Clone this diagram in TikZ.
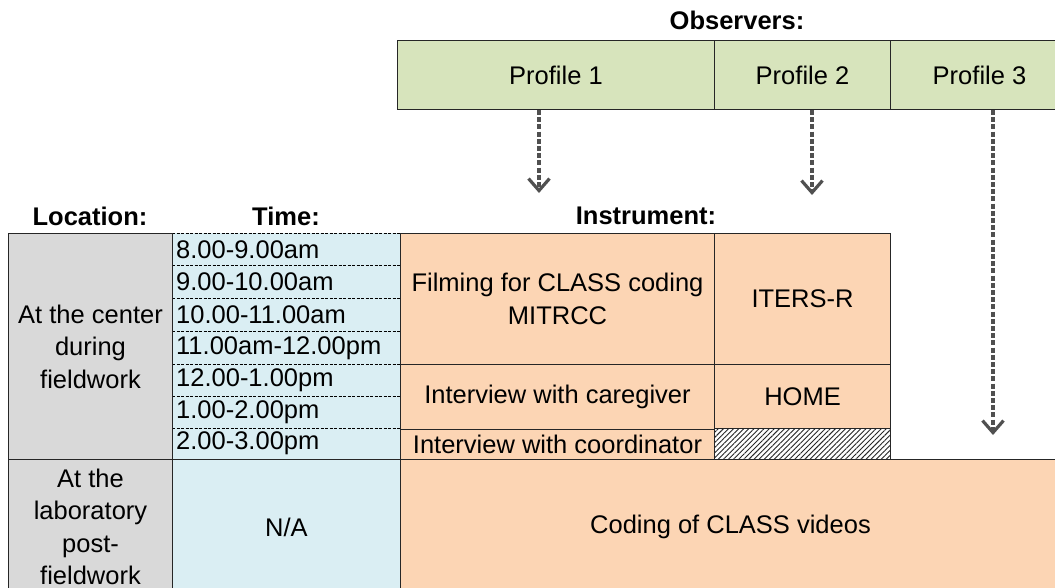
\documentclass[tikz,border=0pt]{standalone}
\usepackage{fontspec}
\setmainfont{Liberation Sans}
\usetikzlibrary{arrows.meta,patterns.meta}
\definecolor{obsgreen}{HTML}{D7E4BC}
\definecolor{timeblue}{HTML}{DAEEF3}
\definecolor{instorange}{HTML}{FCD5B4}
\definecolor{locgray}{HTML}{D9D9D9}
\definecolor{edge}{HTML}{262626}
\definecolor{arrowgray}{HTML}{505050}
\begin{document}
\begin{tikzpicture}[x=1pt,y=-1pt,
  every node/.style={font=\fontsize{25.5}{32.5}\selectfont, text=black},
  cell/.style={draw=edge, line width=1pt, inner sep=0pt, anchor=north west, align=center},
  head/.style={font=\fontsize{25.5}{30}\selectfont\bfseries},
  timetxt/.style={anchor=west, inner sep=0pt},
  sep/.style={draw=black, line width=0.8pt, dash pattern=on 3pt off 1.5pt},
  obsarrow/.style={draw=arrowgray, line width=3.4pt, dash pattern=on 5pt off 2.2pt,
    -{Straight Barb[length=12pt,width=21pt,line width=3.2pt]}}]
\useasboundingbox (0,0) rectangle (1055,587);

% observers header
\node[head] (obs) at (737,20) {Observers:};
\node[cell, fill=obsgreen, minimum width=317pt, minimum height=69pt] (p1) at (397,40) {Profile 1};
\node[cell, fill=obsgreen, minimum width=176pt, minimum height=69pt] (p2) at (714,40) {Profile 2};
\node[cell, fill=obsgreen, minimum width=178pt, minimum height=69pt] (p3) at (890,40) {Profile 3};

% column headings
\node[head] (hloc) at (90,216) {Location:};
\node[head] (htime) at (286,216) {Time:};
\node[head] (hinst) at (646,216) {Instrument:};

% time column
\node[anchor=north west, fill=timeblue, inner sep=0pt, minimum width=228pt, minimum height=226pt] (timecol) at (172,233) {};
\node[timetxt] (t1) at (176,249.5) {8.00-9.00am};
\node[timetxt] (t2) at (176,282) {9.00-10.00am};
\node[timetxt] (t3) at (176,315) {10.00-11.00am};
\node[timetxt] (t4) at (176,348) {11.00am-12.00pm};
\node[timetxt] (t5) at (176,380) {12.00-1.00pm};
\node[timetxt] (t6) at (176,412) {1.00-2.00pm};
\node[timetxt] (t7) at (176,443.5) {2.00-3.00pm};
\foreach \yy in {233,265.5,298,331.5,364,396,428.5}
  \draw[sep] (timecol.west |- 0,\yy) -- (timecol.east |- 0,\yy);

% location, first block
\node[cell, fill=locgray, minimum width=164pt, minimum height=226pt] (loc1) at (8,233)
  {At the center\\during\\fieldwork};

% instruments
\node[cell, fill=instorange, minimum width=314pt, minimum height=131pt] (film) at (400,233)
  {Filming for CLASS coding\\MITRCC};
\node[cell, fill=instorange, minimum width=176pt, minimum height=131pt] (iters) at (714,233) {ITERS-R};
\node[cell, fill=instorange, minimum width=314pt, minimum height=64.5pt] (care) at (400,364)
  {Interview with caregiver};
\node[cell, fill=instorange, minimum width=176pt, minimum height=64.5pt] (home) at (714,364) {HOME};
\node[cell, fill=instorange, minimum width=314pt, minimum height=30.5pt] (coord) at (400,428.5)
  {Interview with coordinator};
\node[cell, preaction={fill=white},
  pattern={Lines[angle=45,distance=3.6pt,line width=0.9pt]}, pattern color=black!85,
  minimum width=176pt, minimum height=30.5pt] (hatch) at (714,428.5) {};

% post-fieldwork row
\node[cell, fill=locgray, minimum width=164pt, minimum height=135pt] (loc2) at (8,459)
  {At the\\laboratory\\post-\\fieldwork};
\node[cell, fill=timeblue, minimum width=228pt, minimum height=135pt] (na) at (172,459) {N/A};
\node[cell, fill=instorange, minimum width=660pt, minimum height=135pt] (coding) at (400,459)
  {Coding of CLASS videos};

% observer arrows
\coordinate (a1) at (539,193);
\coordinate (a2) at (812,195);
\coordinate (a3) at (993,435);
\draw[obsarrow] (p1.south -| a1) -- (a1);
\draw[obsarrow] (p2.south -| a2) -- (a2);
\draw[obsarrow] (p3.south -| a3) -- (a3);
\end{tikzpicture}
\end{document}
